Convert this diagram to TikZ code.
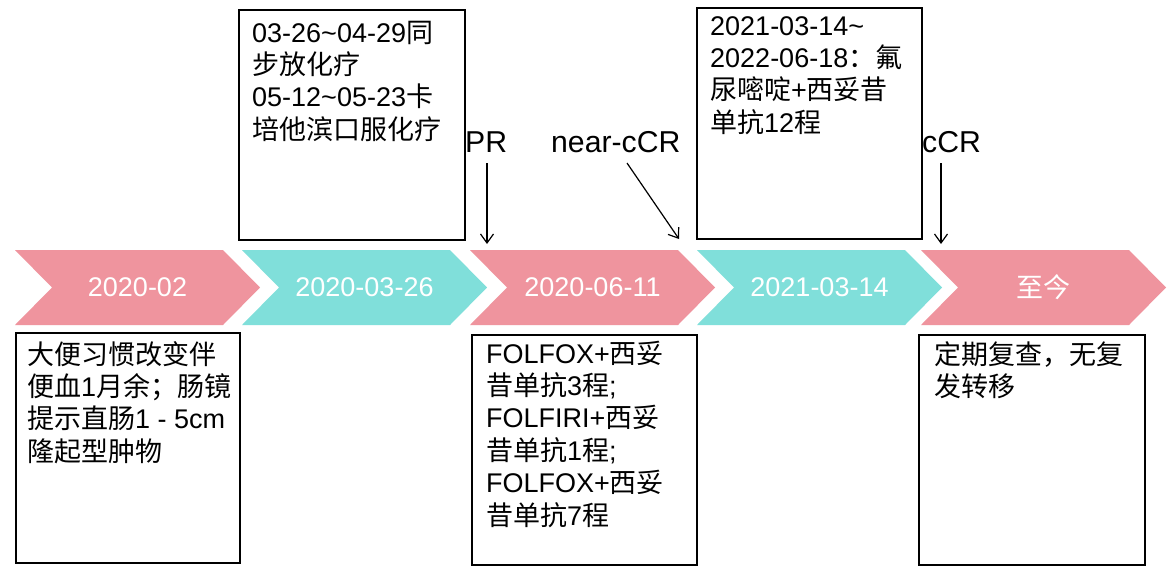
\documentclass[tikz,border=0pt]{standalone}
\usepackage{fontspec}
\setmainfont{Liberation Sans}
\newfontfamily\cjk{Noto Sans CJK SC}
\newcommand\hz[1]{{\cjk #1}}
\usetikzlibrary{arrows.meta}
\definecolor{pinkc}{RGB}{239,148,158}
\definecolor{tealc}{RGB}{128,223,218}
\begin{document}
\begin{tikzpicture}[x=1pt,y=-1pt,
  box/.style={draw=black,line width=2pt,inner sep=0pt,anchor=north west},
  txt/.style={anchor=base west,inner sep=0pt,align=left,font=\fontsize{27}{32.4}\selectfont},
  datelbl/.style={text=white,font=\fontsize{27}{32.4}\selectfont,inner sep=0pt},
  lbl/.style={font=\fontsize{30.2}{35}\selectfont,inner sep=0pt,anchor=base west},
  arr/.style={-{Straight Barb[length=9pt,width=13pt]},line width=1.2pt}
]
\useasboundingbox (0,0) rectangle (1173,574);
\fill[white] (0,0) rectangle (1173,574);

% chevrons
\foreach \L/\c/\n/\lab in {15/pinkc/d1/2020-02, 242/tealc/d2/2020-03-26, 470/pinkc/d3/2020-06-11, 697/tealc/d4/2021-03-14, 921/pinkc/d5/\hz{至今}} {
  \fill[\c] (\L,250) -- (\L+208,250) -- (\L+245,287.5) -- (\L+208,325) -- (\L,325) -- (\L+37,287.5) -- cycle;
  \node[datelbl] (\n) at (\L+122.5,287.5) {\lab};
}

% boxes
\node[box,minimum width=224pt,minimum height=230pt] (b1) at (15,332) {};
\node[box,minimum width=226pt,minimum height=230pt] (b2) at (238,9) {};
\node[box,minimum width=225pt,minimum height=231pt] (b3) at (696,7) {};
\node[box,minimum width=225pt,minimum height=230pt] (b4) at (471,334) {};
\node[box,minimum width=226pt,minimum height=230pt] (b5) at (918,334) {};

% texts (anchor = baseline of the last line)
\node[txt] (t1) at (27,461.2) {\hz{大便习惯改变伴}\\\hz{便血}1\hz{月余；肠镜}\\\hz{提示直肠}1 - 5cm\\\hz{隆起型肿物}};
\node[txt] (t2) at (252,139.2) {03-26\textasciitilde04-29\hz{同}\\\hz{步放化疗}\\05-12\textasciitilde05-23\hz{卡}\\\hz{培他滨口服化疗}};
\node[txt] (t3) at (710,132.2) {2021-03-14\textasciitilde\\2022-06-18\hz{：氟}\\\hz{尿嘧啶}+\hz{西妥昔}\\\hz{单抗}12\hz{程}};
\node[txt] (t4) at (486,525) {FOLFOX+\hz{西妥}\\\hz{昔单抗}3\hz{程};\\FOLFIRI+\hz{西妥}\\\hz{昔单抗}1\hz{程};\\FOLFOX+\hz{西妥}\\\hz{昔单抗}7\hz{程}};
\node[txt] (t5) at (934,396.4) {\hz{定期复查，无复}\\\hz{发转移}};

% labels and arrows
\node[lbl] (pr) at (465,152) {PR};
\node[lbl] (ncr) at (551,152) {near-cCR};
\node[lbl] (ccr) at (922,152) {cCR};
\coordinate (prS) at (487,163);
\coordinate (prT) at (487,244);
\coordinate (ncrS) at (627,163);
\coordinate (ncrT) at (679,239);
\coordinate (ccrS) at (941,163);
\coordinate (ccrT) at (941,244);
\draw[arr] (prS) -- (prT);
\draw[arr] (ncrS) -- (ncrT);
\draw[arr] (ccrS) -- (ccrT);
\end{tikzpicture}
\end{document}
